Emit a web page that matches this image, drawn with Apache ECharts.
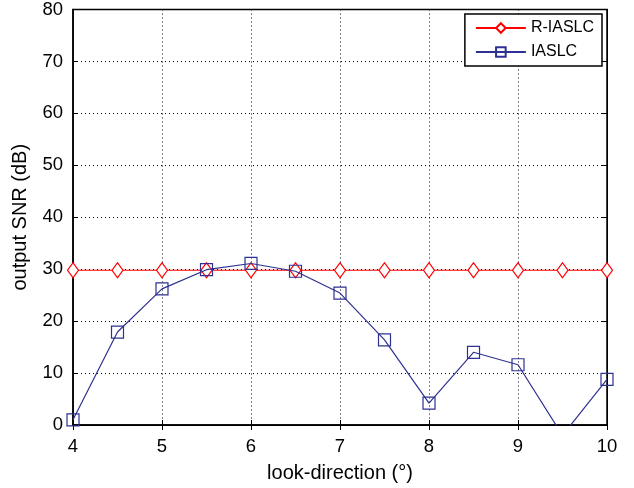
<!DOCTYPE html>
<html>
<head>
<meta charset="utf-8">
<script src="https://cdn.jsdelivr.net/npm/echarts@6/dist/echarts.min.js"></script>
<style>
  html, body { margin: 0; padding: 0; background: #fff; }
  #chart { width: 634px; height: 488px; }
</style>
</head>
<body>
<div id="chart"></div>
<script>
// look-direction in degrees
const lookDirection = [4, 4.5, 5, 5.5, 6, 6.5, 7, 7.5, 8, 8.5, 9, 9.5, 10];
// output SNR (dB)
const rIaslc = [29.8, 29.8, 29.8, 29.8, 29.8, 29.8, 29.8, 29.8, 29.8, 29.8, 29.8, 29.8, 29.8];
const iaslc = [1.0, 17.9, 26.2, 29.9, 31.1, 29.6, 25.4, 16.4, 4.2, 14.0, 11.6, -2.0, 8.8];

const xTicks = [4, 5, 6, 7, 8, 9, 10];
const yTicks = [0, 10, 20, 30, 40, 50, 60, 70, 80];

function pairs(ys) {
    return lookDirection.map((x, i) => [x, ys[i]]);
}

const chart = echarts.init(document.getElementById('chart'));
const font = 'Liberation Sans, Arial, sans-serif';

// 边框轴（上、右），只显示刻度
const frameAxis = {
    axisLine: { show: true, lineStyle: { color: '#000', width: 1 } },
    axisTick: { show: true, inside: true, length: 5, lineStyle: { color: '#000' } },
    axisLabel: { show: false },
    splitLine: { show: false }
};

const option = {
    animation: false,
    grid: {
        left: 73, right: 27, top: 7, bottom: 62,
        show: true, borderColor: '#000', borderWidth: 1.5
    },
    legend: {
        right: 32, top: 14,
        orient: 'vertical',
        backgroundColor: '#fff',
        borderColor: '#000',
        borderWidth: 1.5,
        padding: [6, 8, 6, 10],
        itemGap: 8,
        itemWidth: 50,
        itemHeight: 12,
        textStyle: { fontFamily: font, fontSize: 16, color: '#000' },
        data: ['R-IASLC', 'IASLC']
    },
    xAxis: [{
        type: 'value', min: 4, max: 10, interval: 1,
        name: 'look-direction (°)', nameLocation: 'middle', nameGap: 38,
        nameTextStyle: { fontFamily: font, fontSize: 20, color: '#000' },
        axisLine: { show: true, lineStyle: { color: '#000', width: 1.5 } },
        axisTick: { show: true, inside: true, length: 5, lineStyle: { color: '#000' } },
        axisLabel: {
            fontFamily: font, fontSize: 18.5, color: '#000', margin: 12,
            formatter: v => xTicks.includes(v) ? String(v) : ''
        },
        splitLine: { show: true, lineStyle: { color: '#000', type: [1, 3], width: 1 } }
    }, Object.assign({ type: 'value', position: 'top', min: 4, max: 10, interval: 1 }, frameAxis)],
    yAxis: [{
        type: 'value', min: 0, max: 80, interval: 10,
        name: 'output SNR (dB)', nameLocation: 'middle', nameGap: 43,
        nameTextStyle: { fontFamily: font, fontSize: 20, color: '#000' },
        axisLine: { show: true, lineStyle: { color: '#000', width: 1.5 } },
        axisTick: { show: true, inside: true, length: 5, lineStyle: { color: '#000' } },
        axisLabel: {
            fontFamily: font, fontSize: 18.5, color: '#000', margin: 10,
            formatter: v => yTicks.includes(v) ? String(v) : ''
        },
        splitLine: { show: true, lineStyle: { color: '#000', type: [1, 3], width: 1 } }
    }, Object.assign({ type: 'value', position: 'right', min: 0, max: 80, interval: 10 }, frameAxis)],
    series: [{
        name: 'R-IASLC',
        type: 'line',
        data: pairs(rIaslc),
        symbol: 'diamond',
        symbolSize: [11, 15],
        showAllSymbol: true,
        clip: true,
        lineStyle: { color: '#ff0000', width: 1.2 },
        itemStyle: { color: '#fff', borderColor: '#ff0000', borderWidth: 1.2 },
        z: 3
    }, {
        name: 'IASLC',
        type: 'line',
        data: pairs(iaslc),
        symbol: 'rect',
        symbolSize: 12,
        showAllSymbol: true,
        clip: true,
        lineStyle: { color: '#2e3192', width: 1.2 },
        itemStyle: { color: 'rgba(255,255,255,0)', borderColor: '#2e3192', borderWidth: 1.2 },
        z: 4
    }]
};

chart.setOption(option);
</script>
</body>
</html>
